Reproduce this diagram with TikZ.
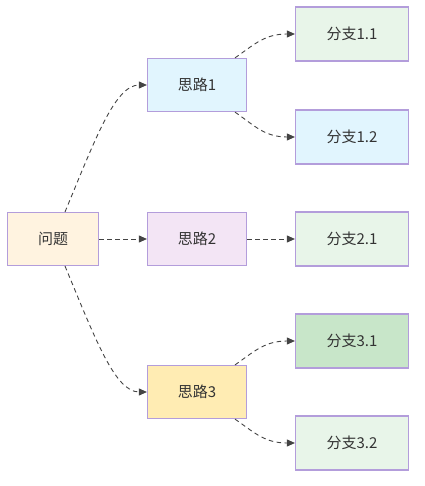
\documentclass[tikz,border=0pt]{standalone}
\usepackage{fontspec}
\setmainfont{Noto Sans CJK SC}
\usetikzlibrary{arrows.meta}
\definecolor{bordc}{HTML}{B39DDB}
\definecolor{txtc}{HTML}{333333}
\definecolor{edgec}{HTML}{444444}
\definecolor{cq}{HTML}{FFF3E0}
\definecolor{cs1}{HTML}{E1F5FE}
\definecolor{cs2}{HTML}{F3E5F5}
\definecolor{cs3}{HTML}{FFECB3}
\definecolor{cgreen}{HTML}{E8F5E9}
\definecolor{cgreenb}{HTML}{C8E6C9}
\definecolor{cblue}{HTML}{E1F5FE}
\tikzset{
  box/.style={draw=bordc, line width=1.2bp, text=txtc, font=\fontsize{15bp}{18bp}\selectfont, inner sep=0pt, minimum height=53bp},
  qbox/.style={box, minimum width=91bp},
  sbox/.style={box, minimum width=99bp},
  bbox/.style={box, minimum width=113bp, minimum height=54bp},
  conn/.style={draw=edgec, line width=0.9bp, dash pattern=on 4.5bp off 3.5bp, -{Triangle[length=8bp,width=7bp]}}
}
\begin{document}
\begin{tikzpicture}[x=1bp,y=-1bp]
\useasboundingbox (0,0) rectangle (424,486);
\node[qbox, fill=cq] (q) at (53,239) {问题};
\node[sbox, fill=cs1] (s1) at (197,85) {思路1};
\node[sbox, fill=cs2] (s2) at (197,239) {思路2};
\node[sbox, fill=cs3] (s3) at (197,392) {思路3};
\node[bbox, fill=cgreen] (b11) at (352,34) {分支1.1};
\node[bbox, fill=cblue] (b12) at (352,137) {分支1.2};
\node[bbox, fill=cgreen] (b21) at (352,239) {分支2.1};
\node[bbox, fill=cgreenb] (b31) at (352,341) {分支3.1};
\node[bbox, fill=cgreen] (b32) at (352,443) {分支3.2};
\draw[conn] ([xshift=12bp]q.north) .. controls +(30,-72) and +(-32,0) .. (s1.west);
\draw[conn] (q.east) -- (s2.west);
\draw[conn] ([xshift=12bp]q.south) .. controls +(30,72) and +(-32,0) .. (s3.west);
\draw[conn] ([xshift=38bp]s1.north) .. controls +(20,-14) and +(-30,0) .. (b11.west);
\draw[conn] ([xshift=38bp]s1.south) .. controls +(20,14) and +(-30,0) .. (b12.west);
\draw[conn] (s2.east) -- (b21.west);
\draw[conn] ([xshift=38bp]s3.north) .. controls +(20,-14) and +(-30,0) .. (b31.west);
\draw[conn] ([xshift=38bp]s3.south) .. controls +(20,14) and +(-30,0) .. (b32.west);
\end{tikzpicture}
\end{document}
